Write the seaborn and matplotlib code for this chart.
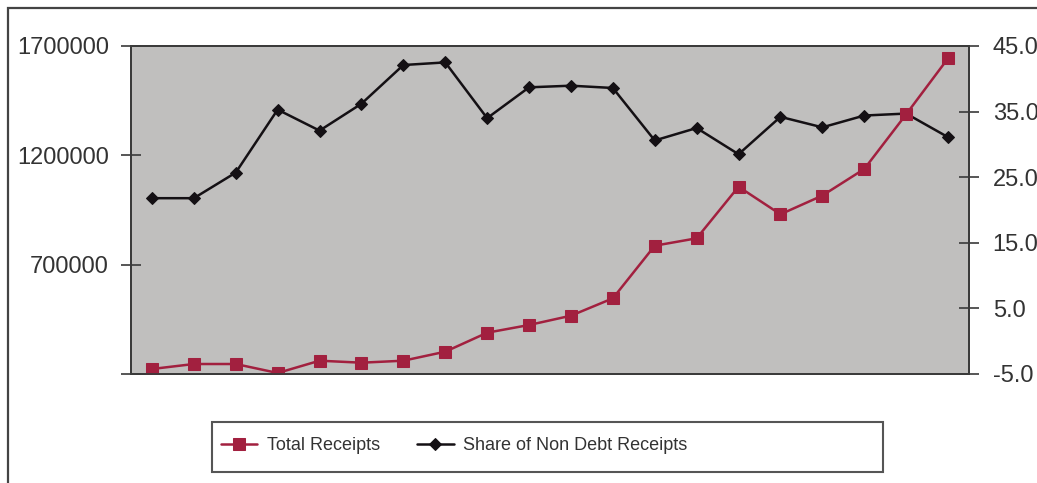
import matplotlib
matplotlib.use("Agg")
import matplotlib.pyplot as plt
import seaborn as sns
import pandas as pd
from matplotlib.patches import Rectangle

# Annual series (20 periods)
periods = list(range(1, 21))
total_receipts = [222900, 245700, 245700, 204600, 260800, 251700, 260800, 302000,
                  388900, 424100, 466600, 546100, 786700, 820600, 1056500, 930300,
                  1016000, 1137500, 1387600, 1643700]
non_debt_share = [21.8, 21.8, 25.7, 35.3, 32.1, 36.2, 42.1, 42.5, 34.0, 38.7,
                  38.95, 38.6, 30.6, 32.5, 28.5, 34.2, 32.6, 34.4, 34.7, 31.1]

left_ticks = [200000, 700000, 1200000, 1700000]
left_labels = ["", "700000", "1200000", "1700000"]
right_ticks = [-5.0, 5.0, 15.0, 25.0, 35.0, 45.0]
right_labels = [f"{v:.1f}" for v in right_ticks]

series_names = ["Total Receipts", "Share of Non Debt Receipts"]

df = pd.DataFrame({"period": periods,
                   "total": total_receipts,
                   "share": non_debt_share})

sns.set_theme(style="white")
plt.rcParams["font.family"] = ["Liberation Sans", "DejaVu Sans"]

RED = "#a2203f"
BLACK = "#141014"
SPINE = "#3a3a3a"
PLOT_BG = "#c0bfbe"

fig = plt.figure(figsize=(10.37, 4.83), dpi=100)
fig.patch.set_facecolor("white")

W, H = 1037, 483
x0, x1, y0, y1 = 131, 969, 46, 374
ax = fig.add_axes([x0 / W, 1 - y1 / H, (x1 - x0) / W, (y1 - y0) / H])
ax2 = ax.twinx()

# left axis (red series) drawn above the right-axis series
ax.set_zorder(2)
ax.patch.set_visible(False)
ax2.set_zorder(1)
ax2.patch.set_visible(True)
ax2.patch.set_facecolor(PLOT_BG)

sns.lineplot(data=df, x="period", y="share", ax=ax2, color=BLACK, marker="D",
             markersize=6.3, markeredgecolor=BLACK, linewidth=1.8, legend=False)
sns.lineplot(data=df, x="period", y="total", ax=ax, color=RED, marker="s",
             markersize=8.5, markeredgecolor=RED, linewidth=1.8, legend=False)

ax.set_xlim(0.5, 20.5)
ax.set_ylim(200000, 1700000)
ax2.set_ylim(-5, 45)

ax.set_yticks(left_ticks)
ax.set_yticklabels(left_labels)
ax2.set_yticks(right_ticks)
ax2.set_yticklabels(right_labels)
ax.set_xticks([])
ax2.set_xticks([])
ax.set_xlabel("")
ax.set_ylabel("")
ax2.set_xlabel("")
ax2.set_ylabel("")

ax.tick_params(axis="y", direction="inout", length=14, width=1.2, color=SPINE,
               labelsize=17, labelcolor="#333333", pad=9, left=True)
ax2.tick_params(axis="y", direction="inout", length=14, width=1.2, color=SPINE,
                labelsize=17, labelcolor="#333333", pad=10, right=True)

for a in (ax, ax2):
    for side in ("left", "right", "top", "bottom"):
        a.spines[side].set_visible(True)
        a.spines[side].set_color(SPINE)
        a.spines[side].set_linewidth(1.3)

# outer chart border
fig.patches.append(Rectangle((8 / W, -0.1), 1.2, 1.1 - 8 / H,
                             transform=fig.transFigure, fill=False,
                             edgecolor="#444444", linewidth=1.6))

# legend box
lx0, lx1, ly0, ly1 = 212, 883, 422, 472
fig.patches.append(Rectangle((lx0 / W, 1 - ly1 / H), (lx1 - lx0) / W, (ly1 - ly0) / H,
                             transform=fig.transFigure, fill=False,
                             edgecolor="#555555", linewidth=1.5))

h1 = ax.get_lines()[0]
h2 = ax2.get_lines()[0]
fig.legend([h1, h2], series_names, loc="center left",
           bbox_to_anchor=(205 / W, 1 - 446 / H), ncol=2, frameon=False,
           fontsize=13, handlelength=2.0, handletextpad=0.55,
           columnspacing=2.05, labelcolor="#333333")

fig.savefig("out.png", dpi=100, facecolor="white")
